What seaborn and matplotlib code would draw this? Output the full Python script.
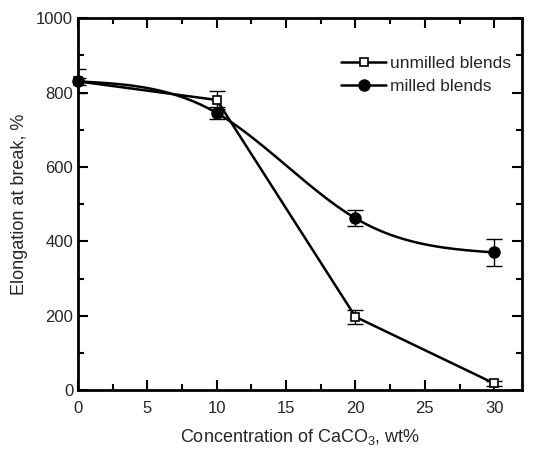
import numpy as np
import pandas as pd
import matplotlib
matplotlib.use("Agg")
import matplotlib.pyplot as plt
import seaborn as sns
from matplotlib.ticker import MultipleLocator
from matplotlib.lines import Line2D

conc = [0, 10, 20, 30]
unmilled = [830, 780, 197, 18]
unmilled_err = [32, 25, 18, 6]
milled = [830, 745, 462, 370]
milled_err = [10, 15, 22, 37]

sns.set_style("ticks")
plt.rcParams['font.family'] = ['Liberation Sans', 'DejaVu Sans']
plt.rcParams['mathtext.fontset'] = 'custom'
plt.rcParams['mathtext.rm'] = 'Liberation Sans'

fig = plt.figure(figsize=(5.42, 4.65), dpi=100)
ax = fig.add_axes([0.144, 0.161, 0.819, 0.800])


def natural_spline(x, y, n=200):
    x = np.asarray(x, float); y = np.asarray(y, float)
    k = len(x); h = np.diff(x)
    A = np.zeros((k, k)); b = np.zeros(k)
    A[0, 0] = A[-1, -1] = 1
    for i in range(1, k - 1):
        A[i, i - 1] = h[i - 1]; A[i, i] = 2 * (h[i - 1] + h[i]); A[i, i + 1] = h[i]
        b[i] = 3 * ((y[i + 1] - y[i]) / h[i] - (y[i] - y[i - 1]) / h[i - 1])
    c = np.linalg.solve(A, b)
    xs = np.linspace(x[0], x[-1], n); ys = np.empty_like(xs)
    for j, t in enumerate(xs):
        i = min(np.searchsorted(x, t, side='right') - 1, k - 2)
        d = t - x[i]
        bi = (y[i + 1] - y[i]) / h[i] - h[i] * (2 * c[i] + c[i + 1]) / 3
        di = (c[i + 1] - c[i]) / (3 * h[i])
        ys[j] = y[i] + bi * d + c[i] * d ** 2 + di * d ** 3
    return xs, ys

df_u = pd.DataFrame({"x": conc, "y": unmilled})
sns.lineplot(data=df_u, x="x", y="y", ax=ax, color="black", lw=1.8, zorder=2)
xs, ys = natural_spline(conc, milled)
sns.lineplot(x=xs, y=ys, ax=ax, color="black", lw=1.8, zorder=2)

ax.errorbar(conc, unmilled, yerr=unmilled_err, fmt='none', ecolor='black', elinewidth=1.0, capsize=6, capthick=1.0, zorder=3)
ax.errorbar(conc, milled, yerr=milled_err, fmt='none', ecolor='black', elinewidth=1.0, capsize=6, capthick=1.0, zorder=3)
ax.plot(conc, unmilled, ls='none', marker='s', ms=6, mfc='white', mec='black', mew=1.2, zorder=4, clip_on=False)
ax.plot(conc, milled, ls='none', marker='o', ms=8, mfc='black', mec='black', zorder=4, clip_on=False)

h1 = Line2D([], [], color='black', lw=1.8, marker='s', ms=6, mfc='white', mec='black', mew=1.2)
h2 = Line2D([], [], color='black', lw=1.8, marker='o', ms=8, mfc='black')
ax.legend([h1, h2], ["unmilled blends", "milled blends"], loc='upper right',
          bbox_to_anchor=(1.01, 0.94), frameon=False, fontsize=12.5, handlelength=2.6,
          handletextpad=0.2, labelspacing=0.45)

ax.set_xlim(0, 32)
ax.set_ylim(0, 1000)
ax.xaxis.set_major_locator(MultipleLocator(5))
ax.xaxis.set_minor_locator(MultipleLocator(2.5))
ax.yaxis.set_major_locator(MultipleLocator(200))
ax.yaxis.set_minor_locator(MultipleLocator(100))
ax.tick_params(which='both', direction='in', top=True, right=True, width=1.5, labelsize=12, color='black')
ax.tick_params(which='major', length=7)
ax.tick_params(which='minor', length=4)
ax.tick_params(axis='x', pad=8)
for s in ax.spines.values():
    s.set_linewidth(2.0); s.set_color('black')

ax.set_xlabel("Concentration of CaCO$_3$, wt%", fontsize=13, labelpad=8)
ax.set_ylabel("Elongation at break, %", fontsize=13, labelpad=6)

fig.savefig("out.png", dpi=100)
